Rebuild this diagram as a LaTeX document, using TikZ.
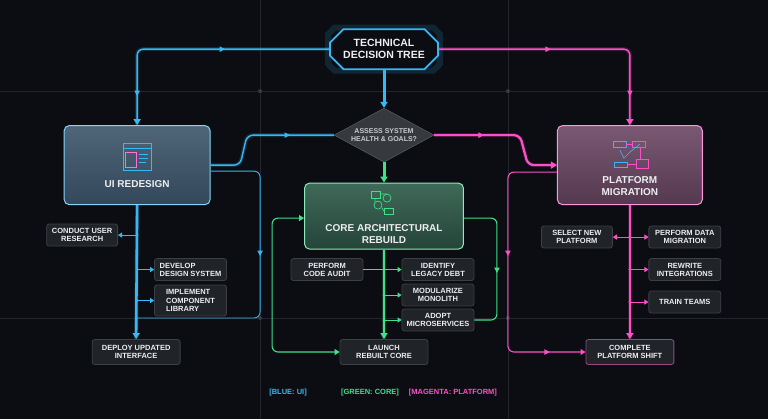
\documentclass[tikz,border=0pt]{standalone}
\usepackage{fontspec}
\setmainfont{Liberation Sans}
\usetikzlibrary{arrows.meta,shapes.geometric,shapes.misc,calc}
\definecolor{bg}{HTML}{0B0D12}
\definecolor{blu}{HTML}{35B8F5}
\definecolor{grn}{HTML}{3EE08A}
\definecolor{mag}{HTML}{FF4FC8}
\definecolor{sbox}{HTML}{202328}
\definecolor{sbd}{HTML}{3C4046}
\definecolor{txt}{HTML}{ECEEF0}
\definecolor{uitop}{HTML}{4E6678}
\definecolor{uibot}{HTML}{33485A}
\definecolor{cotop}{HTML}{3F6A58}
\definecolor{cobot}{HTML}{25443A}
\definecolor{pltop}{HTML}{7A5873}
\definecolor{plbot}{HTML}{54394F}
\begin{document}
\begin{tikzpicture}[x=1pt,y=-1pt,
  every node/.style={font=\bfseries, text=txt, align=center},
  small/.style={draw=sbd, fill=sbox, rounded corners=2.5pt, line width=0.8pt, font=\bfseries\fontsize{7.5}{8.2}\selectfont, inner sep=2pt, minimum height=22pt},
  big/.style={rounded corners=5pt, line width=1pt, minimum width=146pt, minimum height=79pt},
  glow/.style={line width=4pt, opacity=0.18, rounded corners=6pt},
  ln/.style={line width=1.4pt, rounded corners=6pt},
  thk/.style={line width=2.6pt, rounded corners=6pt},
  tip/.style={-{Triangle[length=6pt,width=7pt]}},
  ar/.pic={\fill (-2.5,-2.8)--(3,0)--(-2.5,2.8)--cycle;},
  ard/.pic={\fill (-2.8,-2.5)--(0,3)--(2.8,-2.5)--cycle;},
  dot/.style={circle, inner sep=0pt, minimum size=3pt}
]
\fill[bg] (0,0) rectangle (768,419);
% faint grid
\draw[white!10!bg, line width=0.4pt] (0,91)--(768,91) (0,318)--(768,318) (260,0)--(260,419) (508,0)--(508,419);
\foreach \p in {(260,91),(508,91),(260,318),(508,318)} \fill[white!18!bg] \p circle (2pt);

% ---- title hexagon
\node[draw=blu, line width=6pt, opacity=0.15, minimum width=112pt, minimum height=43pt, chamfered rectangle, chamfered rectangle xsep=10pt] at (384,49) {};
\node (title) [draw=blu, line width=1.8pt, fill=bg, chamfered rectangle, chamfered rectangle xsep=10pt, minimum width=108pt, minimum height=40pt, font=\bfseries\fontsize{10.5}{12}\selectfont, inner sep=1pt] at (384,49) {TECHNICAL\\DECISION TREE};

% ---- diamond
\node (dia) [diamond, draw=sbd!80!white, fill=sbox!90!white, aspect=1.9, minimum width=100pt, minimum height=54pt, inner sep=0pt, font=\bfseries\fontsize{7}{8}\selectfont, text=txt!85!black] at (384,135) {ASSESS SYSTEM\\HEALTH \& GOALS?};

% ---- big boxes
\node (ui) [big, draw=blu!60!white, top color=uitop, bottom color=uibot] at (137,165) {};
\node at (137,184) {\fontsize{10}{11}\selectfont UI REDESIGN};
\node (core) [big, minimum width=159pt, minimum height=66pt, draw=grn!60!white, top color=cotop, bottom color=cobot] at (384,216) {};
\node at (384,234) {\fontsize{10}{11.5}\selectfont CORE ARCHITECTURAL\\REBUILD};
\node (plat) [big, minimum width=145pt, draw=mag!60!white, top color=pltop, bottom color=plbot] at (630,165) {};
\node at (630,186) {\fontsize{10}{11.5}\selectfont PLATFORM\\MIGRATION};

% icons
\begin{scope}[line width=0.7pt]
 \draw[blu] (123,143) rectangle (151,170); \draw[blu] (123,148)--(151,148);
 \draw[mag!80!white] (125,152) rectangle (136,167);
 \draw[blu] (139,154)--(148,154) (139,158)--(148,158) (139,162)--(146,162);
 \draw[grn] (371,191) rectangle (380,198) (384,208) rectangle (393,214);
 \draw[grn] (387,198) circle (4pt) (378,205) circle (4pt);
 \draw[grn] (380,194)--(387,194) (375,198)--(375,202) (382,208)--(384,211);
 \draw[blu] (613,141) rectangle (626,147) (614,162) rectangle (627,167);
 \draw[mag] (632,141) rectangle (645,147) (636,159) rectangle (648,168);
 \draw[blu] (620,150)--(624,158)--(630,152)--(640,144);
 \draw[mag] (626,144)--(632,144) (640,147)--(640,159) (636,164)--(627,164);
\end{scope}

% ---- small boxes
\node (res)  [small, minimum width=71pt] at (82,235) {CONDUCT USER\\RESEARCH};
\node (dds)  [small, minimum width=72pt, align=left, anchor=west] at (154,269.5) {DEVELOP\\DESIGN SYSTEM};
\node (icl)  [small, minimum width=72pt, minimum height=31pt, align=left, anchor=west] at (154,300.5) {IMPLEMENT\\COMPONENT\\LIBRARY};
\node (dep)  [small, minimum width=88pt, minimum height=25pt] at (136,352) {DEPLOY UPDATED\\INTERFACE};
\node (pca)  [small, minimum width=72pt] at (327,269.5) {PERFORM\\CODE AUDIT};
\node (ild)  [small, minimum width=72pt] at (438,269.5) {IDENTIFY\\LEGACY DEBT};
\node (mod)  [small, minimum width=72pt] at (438,295) {MODULARIZE\\MONOLITH};
\node (amc)  [small, minimum width=72pt] at (438,320) {ADOPT\\MICROSERVICES};
\node (lrc)  [small, minimum width=88pt, minimum height=25pt] at (384,352) {LAUNCH\\REBUILT CORE};
\node (snp)  [small, minimum width=71pt] at (577,237) {SELECT NEW\\PLATFORM};
\node (pdm)  [small, minimum width=72pt] at (685,237) {PERFORM DATA\\MIGRATION};
\node (rwi)  [small, minimum width=72pt] at (685,269.5) {REWRITE\\INTEGRATIONS};
\node (trt)  [small, minimum width=72pt] at (685,302) {TRAIN TEAMS};
\node (cps)  [small, minimum width=88pt, minimum height=25pt, draw=mag!45!sbd] at (630,352) {COMPLETE\\PLATFORM SHIFT};

% ---- connectors: title & diamond
\draw[blu, glow] (title.west) -| (ui.north);
\draw[blu, ln, tip] (title.west) -| (ui.north);
\draw[mag, glow] (title.east) -| (plat.north);
\draw[mag, ln, tip] (title.east) -| (plat.north);
\draw[blu, line width=3pt, tip] (title.south) -- (dia.north);
\draw[blu, glow] (dia.west) -- (247,135) -- (240,165) -- (ui.east);
\draw[blu, ln] (dia.west) -- (247,135) -- (240,165) -- (ui.east);
\draw[mag, glow] (dia.east) -- (520,135) -- (528,165) -- (plat.west);
\draw[mag, line width=2.2pt, rounded corners=6pt, tip] (dia.east) -- (520,135) -- (528,165) -- (plat.west);
\draw[grn, line width=3pt, tip] (dia.south) -- (core.north);
\path (222,49) pic[blu]{ar} (137,93) pic[blu]{ard} (287,135) pic[blu]{ar};
\path (548,49) pic[mag]{ar} (630,93) pic[mag]{ard} (481,135) pic[mag]{ar};

% ---- UI branch
\draw[blu, glow] (ui.south) -- (dep.north);
\draw[blu, thk, tip] (ui.south) -- (dep.north);
\draw[blu, line width=0.9pt, rounded corners=6pt] (ui.east |- 0,171) -- (260,171) -- (260,318) -- (137,318);
\path (260,253) pic[blu]{ard};
\draw[blu, line width=1pt, -{Triangle[length=4pt,width=5pt]}] (137,235) -- (res.east);
\draw[blu, line width=1pt, -{Triangle[length=4pt,width=5pt]}] (137,269.5) -- (dds.west);
\draw[blu, line width=1pt, -{Triangle[length=4pt,width=5pt]}] (137,300.5) -- (icl.west);
\foreach \y in {235,269.5,300.5} \node[dot, fill=blu] at (137,\y) {};

% ---- Core branch
\draw[grn, glow] (core.south) -- (lrc.north);
\draw[grn, thk, tip] (core.south) -- (lrc.north);
\draw[grn, line width=1pt, -{Triangle[length=4pt,width=5pt]}] (pca.east) -- (ild.west);
\draw[grn, line width=1pt, -{Triangle[length=4pt,width=5pt]}] (384,295) -- (mod.west);
\draw[grn, line width=1pt, -{Triangle[length=4pt,width=5pt]}] (384,320) -- (amc.west);
\foreach \y in {269.5,295,320} \node[dot, fill=grn] at (384,\y) {};
\draw[grn, line width=1.1pt, rounded corners=6pt, -{Triangle[length=5pt,width=6pt]}] (272,236) -- (272,218) -- (core.west |- 0,218);
\draw[grn, line width=1.1pt, rounded corners=6pt, -{Triangle[length=5pt,width=6pt]}] (272,236) -- (272,352) -- (lrc.west);
\draw[grn, line width=1.1pt, rounded corners=6pt] (core.east |- 0,218) -- (497,218) -- (497,320) -- (amc.east);
\path (497,270) pic[grn]{ard};

% ---- Platform branch
\draw[mag, glow] (plat.south) -- (cps.north);
\draw[mag, thk, tip] (plat.south) -- (cps.north);
\draw[mag, line width=1.1pt, rounded corners=6pt, -{Triangle[length=5pt,width=6pt]}] (plat.west |- 0,172) -- (508,172) -- (508,352) -- (cps.west);
\path (508,253) pic[mag]{ard} (547,352) pic[mag]{ar};
\draw[mag, line width=1pt, -{Triangle[length=4pt,width=5pt]}] (630,237) -- (snp.east);
\draw[mag, line width=1pt, -{Triangle[length=4pt,width=5pt]}] (630,237) -- (pdm.west);
\draw[mag, line width=1pt, -{Triangle[length=4pt,width=5pt]}] (630,269.5) -- (rwi.west);
\draw[mag, line width=1pt, -{Triangle[length=4pt,width=5pt]}] (630,302) -- (trt.west);
\foreach \y in {237,269.5,302} \node[dot, fill=mag] at (630,\y) {};

% ---- legend
\node (lb) [font=\bfseries\fontsize{7.5}{8}\selectfont, text=blu] at (288,393) {[BLUE: UI]};
\node (lg) [font=\bfseries\fontsize{7.5}{8}\selectfont, text=grn] at (370,393) {[GREEN: CORE]};
\node (lm) [font=\bfseries\fontsize{7.5}{8}\selectfont, text=mag] at (453,393) {[MAGENTA: PLATFORM]};
\end{tikzpicture}
\end{document}
